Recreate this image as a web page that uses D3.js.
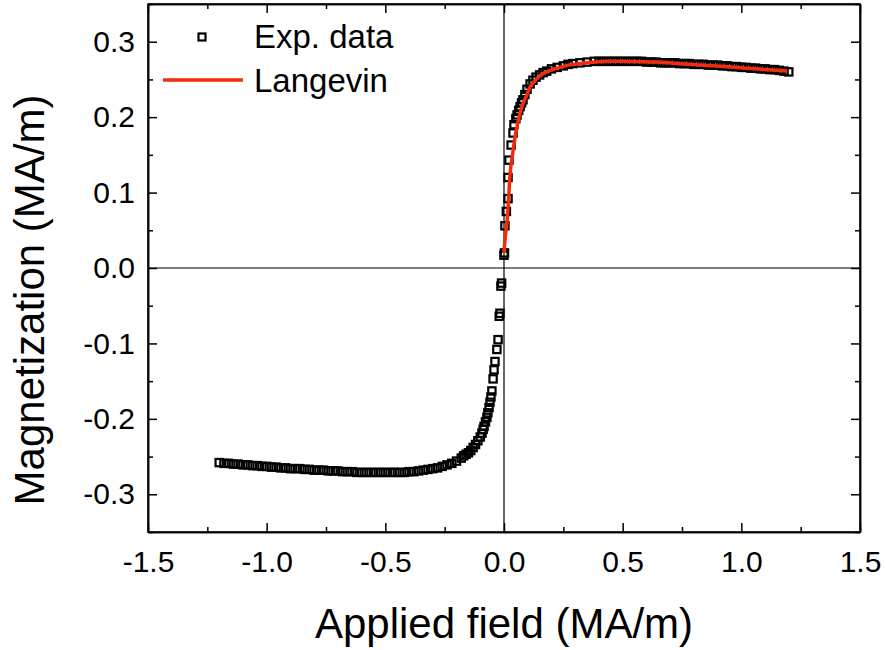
<html>
<head>
    <meta charset="utf-8">
    <script src="https://d3js.org/d3.v7.min.js"></script>
    <style>
        body { margin: 0; background: #fff; }
        text { font-family: "Liberation Sans", Arial, sans-serif; fill: #000; }
        .tick-label { font-size: 30px; }
        .axis-title { font-size: 42px; }
        .legend { font-size: 33px; }
        .axis path, .axis line { stroke: #000; stroke-width: 1.5; }
        .zero-line { stroke: #000; stroke-width: 1.2; }
        .exp-pt { fill: none; stroke: #000; stroke-width: 2.2; }
        .fit-line { fill: none; stroke: #f52a0c; stroke-width: 3.5; }
    </style>
</head>
<body>
    <svg id="chart"></svg>

    <script>
        // experimental data, negative branch (field in MA/m, magnetization in MA/m)
        const expNegH = [-1.20, -1.18, -1.16, -1.14, -1.12, -1.10, -1.08, -1.06, -1.04, -1.02,
            -1.00, -0.98, -0.96, -0.94, -0.92, -0.90, -0.88, -0.86, -0.84, -0.82,
            -0.80, -0.78, -0.76, -0.74, -0.72, -0.70, -0.68, -0.66, -0.64, -0.62,
            -0.60, -0.58, -0.56, -0.54, -0.52, -0.50, -0.48, -0.46, -0.44, -0.42,
            -0.40, -0.38, -0.36, -0.34, -0.32, -0.30, -0.28, -0.26, -0.24, -0.22,
            -0.20, -0.18, -0.17, -0.16, -0.15, -0.14, -0.13, -0.12, -0.11, -0.10,
            -0.093, -0.088, -0.084, -0.078, -0.072, -0.068, -0.063, -0.059, -0.055, -0.051,
            -0.046, -0.042, -0.038, -0.030, -0.025, -0.020, -0.017, -0.013, -0.010];
        const expNegM = [-0.258, -0.259, -0.259, -0.260, -0.260, -0.261, -0.261, -0.262, -0.262, -0.263,
            -0.263, -0.264, -0.264, -0.265, -0.265, -0.266, -0.266, -0.266, -0.267, -0.267,
            -0.268, -0.268, -0.268, -0.269, -0.269, -0.269, -0.270, -0.270, -0.270, -0.271,
            -0.271, -0.271, -0.271, -0.271, -0.271, -0.271, -0.271, -0.271, -0.271, -0.271,
            -0.270, -0.270, -0.269, -0.268, -0.267, -0.266, -0.265, -0.263, -0.261, -0.259,
            -0.256, -0.252, -0.249, -0.247, -0.245, -0.242, -0.238, -0.234, -0.229, -0.224,
            -0.219, -0.214, -0.210, -0.204, -0.198, -0.192, -0.185, -0.178, -0.171, -0.163,
            -0.147, -0.135, -0.124, -0.108, -0.095, -0.064, -0.060, -0.024, -0.020];

        // experimental data, positive branch
        const expPosH = [0.000, 0.002, 0.004, 0.010, 0.017, 0.017, 0.021, 0.030, 0.038, 0.042,
            0.050, 0.055, 0.062, 0.068, 0.074, 0.080, 0.088, 0.097, 0.110, 0.122,
            0.135, 0.150, 0.165, 0.180, 0.200, 0.224, 0.250, 0.270, 0.290, 0.320,
            0.350, 0.380, 0.400, 0.420, 0.440, 0.460, 0.480, 0.500, 0.520, 0.540,
            0.560, 0.580, 0.600, 0.620, 0.640, 0.660, 0.680, 0.700, 0.720, 0.740,
            0.760, 0.780, 0.800, 0.820, 0.840, 0.860, 0.880, 0.900, 0.920, 0.940,
            0.960, 0.980, 1.000, 1.020, 1.040, 1.060, 1.080, 1.100, 1.120, 1.140,
            1.160, 1.180, 1.200];
        const expPosM = [0.017, 0.020, 0.056, 0.075, 0.092, 0.120, 0.143, 0.163, 0.179, 0.190,
            0.198, 0.203, 0.209, 0.214, 0.219, 0.223, 0.230, 0.237, 0.244, 0.249,
            0.253, 0.256, 0.259, 0.261, 0.264, 0.266, 0.268, 0.270, 0.271, 0.272,
            0.273, 0.274, 0.274, 0.274, 0.274, 0.274, 0.274, 0.274, 0.274, 0.274,
            0.274, 0.274, 0.273, 0.273, 0.273, 0.272, 0.272, 0.272, 0.272, 0.271,
            0.271, 0.271, 0.270, 0.270, 0.270, 0.269, 0.269, 0.269, 0.268, 0.268,
            0.267, 0.267, 0.266, 0.266, 0.265, 0.265, 0.264, 0.264, 0.263, 0.263,
            0.262, 0.261, 0.260];

        // Langevin fit
        const fitH = [0.000, 0.005, 0.013, 0.020, 0.025, 0.035, 0.046, 0.057, 0.068, 0.080,
            0.097, 0.110, 0.130, 0.152, 0.180, 0.224, 0.270, 0.321, 0.380, 0.435,
            0.500, 0.574, 0.640, 0.713, 0.780, 0.857, 0.930, 0.996, 1.060, 1.130, 1.194];
        const fitM = [0.020, 0.040, 0.062, 0.095, 0.122, 0.148, 0.172, 0.191, 0.206, 0.218,
            0.230, 0.240, 0.248, 0.255, 0.260, 0.265, 0.269, 0.271, 0.273, 0.274,
            0.274, 0.2735, 0.273, 0.2715, 0.270, 0.2685, 0.267, 0.2655, 0.264, 0.2625, 0.261];

        const xTicks = [-1.5, -1.0, -0.5, 0.0, 0.5, 1.0, 1.5];
        const xMinor = [-1.25, -0.75, -0.25, 0.25, 0.75, 1.25];
        const yTicks = [-0.3, -0.2, -0.1, 0.0, 0.1, 0.2, 0.3];
        const yMinor = [-0.35, -0.25, -0.15, -0.05, 0.05, 0.15, 0.25, 0.35];

        const W = 886, H = 650;
        const margin = { top: 4, right: 26, bottom: 118, left: 148 };

        const svg = d3.select("#chart")
            .attr("width", W)
            .attr("height", H);

        const x = d3.scaleLinear()
            .domain([-1.5, 1.5])
            .range([margin.left, W - margin.right]);

        const y = d3.scaleLinear()
            .domain([-0.35, 0.35])
            .range([H - margin.bottom, margin.top]);

        const x0 = x.range()[0], x1 = x.range()[1];
        const y0 = y.range()[0], y1 = y.range()[1];

        // zero lines
        svg.append("line").attr("class", "zero-line")
            .attr("x1", x0).attr("x2", x1)
            .attr("y1", y(0)).attr("y2", y(0));
        svg.append("line").attr("class", "zero-line")
            .attr("x1", x(0)).attr("x2", x(0))
            .attr("y1", y0).attr("y2", y1);

        const fmt = d => Math.abs(d) < 1e-9 ? "0.0" : d.toFixed(1);

        // axes: major ticks inward, minor ticks inward, mirrored on top / right
        const addAxis = (axisFn, scale, ticks, size, transform, labels) => {
            const g = svg.append("g")
                .attr("class", "axis")
                .attr("transform", transform)
                .call(axisFn(scale)
                    .tickValues(ticks)
                    .tickSizeInner(size)
                    .tickSizeOuter(0)
                    .tickPadding(axisFn === d3.axisBottom ? 19 : 13)
                    .tickFormat(labels ? fmt : ""));
            g.selectAll("text").attr("class", "tick-label");
            return g;
        };

        addAxis(d3.axisBottom, x, xTicks, -9, `translate(0,${y0})`, true);
        addAxis(d3.axisBottom, x, xMinor, -5, `translate(0,${y0})`, false);
        addAxis(d3.axisTop, x, xTicks, -9, `translate(0,${y1})`, false);
        addAxis(d3.axisTop, x, xMinor, -5, `translate(0,${y1})`, false);
        addAxis(d3.axisLeft, y, yTicks, -9, `translate(${x0},0)`, true);
        addAxis(d3.axisLeft, y, yMinor, -5, `translate(${x0},0)`, false);
        addAxis(d3.axisRight, y, yTicks, -9, `translate(${x1},0)`, false);
        addAxis(d3.axisRight, y, yMinor, -5, `translate(${x1},0)`, false);

        // frame
        svg.append("rect")
            .attr("x", x0).attr("y", y1)
            .attr("width", x1 - x0).attr("height", y0 - y1)
            .attr("fill", "none")
            .attr("stroke", "#000")
            .attr("stroke-width", 1.5);

        // experimental points
        const expData = expNegH.map((h, i) => ({ h, m: expNegM[i] }))
            .concat(expPosH.map((h, i) => ({ h, m: expPosM[i] })));
        const sq = 7.3;

        svg.append("g")
            .selectAll("rect")
            .data(expData)
            .join("rect")
            .attr("class", "exp-pt")
            .attr("x", d => x(d.h) - sq / 2)
            .attr("y", d => y(d.m) - sq / 2)
            .attr("width", sq)
            .attr("height", sq);

        // Langevin fit
        const fitData = fitH.map((h, i) => ({ h, m: fitM[i] }));
        svg.append("path")
            .datum(fitData)
            .attr("class", "fit-line")
            .attr("d", d3.line().x(d => x(d.h)).y(d => y(d.m)).curve(d3.curveMonotoneX));

        // legend
        svg.append("rect")
            .attr("class", "exp-pt")
            .attr("x", 202 - 3.5).attr("y", 37 - 3.5)
            .attr("width", 7).attr("height", 7)
            .attr("stroke-width", 1.5);
        svg.append("text").attr("class", "legend")
            .attr("x", 254).attr("y", 48)
            .text("Exp. data");
        svg.append("line")
            .attr("class", "fit-line")
            .attr("x1", 163).attr("x2", 243)
            .attr("y1", 80).attr("y2", 80);
        svg.append("text").attr("class", "legend")
            .attr("x", 254).attr("y", 92)
            .text("Langevin");

        // axis titles
        svg.append("text")
            .attr("class", "axis-title")
            .attr("text-anchor", "middle")
            .attr("x", (x0 + x1) / 2)
            .attr("y", 638)
            .text("Applied field (MA/m)");

        svg.append("text")
            .attr("class", "axis-title")
            .attr("text-anchor", "middle")
            .attr("transform", `translate(44, ${(y0 + y1) / 2 + 32})rotate(-90)`)
            .text("Magnetization (MA/m)");
    </script>
</body>
</html>
